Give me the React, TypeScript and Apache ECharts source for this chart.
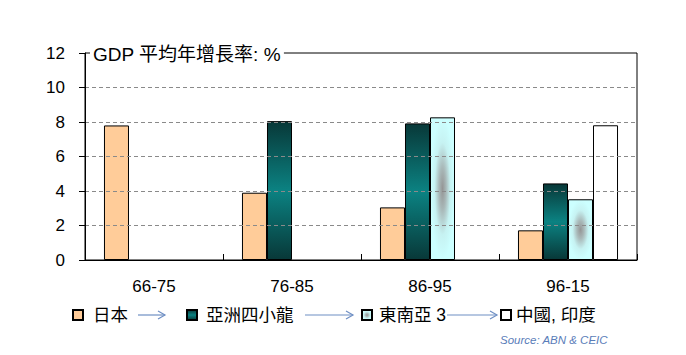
import React, { useEffect, useRef } from "react";
import * as echarts from "echarts";

const categories = ["66-75", "76-85", "86-95", "96-15"];
const seriesNames = ["日本", "亞洲四小龍", "東南亞 3", "中國, 印度"];
const japan = [7.8, 3.9, 3.05, 1.72];
const tigers = [null, 8.05, 7.92, 4.44];
const asean3 = [null, null, 8.27, 3.52];
const chinaIndia = [null, null, null, 7.81];
const titleText = "GDP 平均年增長率: %";
const sourceText = "Source: ABN & CEIC";

const FONT = "'Liberation Sans', Arial, 'Noto Sans CJK TC', sans-serif";

export default function App() {
  const ref = useRef<HTMLDivElement>(null);
  useEffect(() => {
    if (!ref.current) return;
    const chart = echarts.init(ref.current, null, { renderer: "svg" });

    const peach = "#FFCC99";
    const teal = new echarts.graphic.LinearGradient(0, 0, 0, 1, [
      { offset: 0, color: "#083838" },
      { offset: 0.5, color: "#0b8282" },
      { offset: 1, color: "#083838" },
    ]);
    const cyan = new echarts.graphic.RadialGradient(0.5, 0.5, 0.5, [
      { offset: 0, color: "#959595" },
      { offset: 0.3, color: "#a9b9b9" },
      { offset: 0.65, color: "#c6f2f2" },
      { offset: 1, color: "#ccffff" },
    ]);
    const white = "#ffffff";
    const colors = [peach, teal, cyan, white];
    const dataSets = [japan, tigers, asean3, chinaIndia];

    const arrowColor = "#6f8fc4";
    const arrow = (x1: number, x2: number, y: number) => ({
      type: "group",
      children: [
        { type: "line", shape: { x1, y1: y, x2, y2: y }, style: { stroke: arrowColor, lineWidth: 1.2 } },
        {
          type: "polyline",
          shape: { points: [[x2 - 7, y - 4], [x2, y], [x2 - 7, y + 4]] },
          style: { stroke: arrowColor, lineWidth: 1.2, fill: "none" },
        },
      ],
    });

    const legendPos = [
      { left: 72, gap: 10 },
      { left: 186, gap: 9 },
      { left: 361, gap: 7 },
      { left: 500, gap: 5 },
    ];

    chart.setOption({
      animation: false,
      textStyle: { fontFamily: FONT },
      title: [
        {
          text: titleText,
          left: 90,
          top: 44,
          padding: [1, 3],
          backgroundColor: "#ffffff",
          textStyle: { fontFamily: FONT, fontSize: 19, fontWeight: "normal", color: "#000" },
        },
        {
          text: sourceText,
          right: 78,
          top: 334,
          padding: 0,
          textStyle: { fontFamily: FONT, fontSize: 11.5, fontStyle: "italic", fontWeight: "normal", color: "#5a7db9" },
        },
      ],
      legend: legendPos.map((p, i) => ({
        data: [seriesNames[i]],
        left: p.left,
        top: 305,
        padding: 0,
        itemWidth: 10,
        itemHeight: 10,
        icon: "rect",
        selectedMode: false,
        textStyle: {
          fontFamily: FONT,
          fontSize: 17.5,
          color: "#000",
          lineHeight: 20,
          padding: [0, 0, 0, p.gap - 5],
        },
      })),
      grid: {
        left: 85,
        right: 49,
        top: 53,
        bottom: 95,
        containLabel: false,
        show: true,
        borderColor: "#000",
        borderWidth: 1,
        backgroundColor: "transparent",
      },
      xAxis: {
        type: "category",
        data: categories,
        z: 5,
        axisLine: { show: true, lineStyle: { color: "#000", width: 1 } },
        axisTick: { show: true, inside: true, length: 6, lineStyle: { color: "#000" } },
        axisLabel: { fontFamily: FONT, fontSize: 17, color: "#000", margin: 18 },
        splitLine: { show: false },
      },
      yAxis: {
        type: "value",
        min: 0,
        max: 12,
        interval: 2,
        z: 5,
        axisLine: { show: true, lineStyle: { color: "#000", width: 1 } },
        axisTick: { show: true, inside: false, length: 6, lineStyle: { color: "#000" } },
        axisLabel: { fontFamily: FONT, fontSize: 17, color: "#000", margin: 20 },
        splitLine: {
          show: true,
          lineStyle: {
            color: ["#8a8a8a", "#8a8a8a", "#8a8a8a", "#8a8a8a", "#8a8a8a", "#8a8a8a", "rgba(0,0,0,0)"],
            type: [4, 3],
            width: 1,
          },
        },
      },
      series: dataSets.map((d, i) => ({
        name: seriesNames[i],
        type: "bar",
        data: d,
        barGap: "0%",
        barCategoryGap: "27.5%",
        itemStyle: { color: colors[i], borderColor: "#000", borderWidth: 1 },
      })),
      graphic: [arrow(138, 165, 315), arrow(305, 353, 315), arrow(447, 497, 315)],
    });

    return () => chart.dispose();
  }, []);

  return (
    <div
      ref={ref}
      style={{ position: "absolute", left: 0, top: 0, width: 686, height: 355 }}
    />
  );
}
